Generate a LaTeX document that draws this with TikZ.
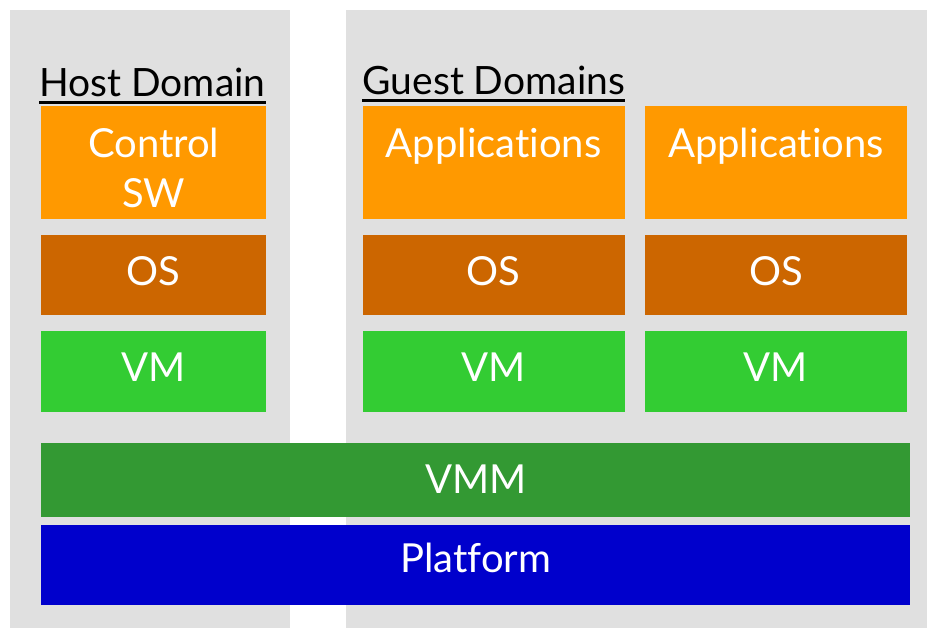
\documentclass[tikz,border=0pt]{standalone}
\usepackage{fontspec}
\setmainfont{Lato}[Ligatures=NoCommon]
\usetikzlibrary{positioning}

\definecolor{panelgray}{HTML}{E0E0E0}
\definecolor{appcol}{HTML}{FF9900}
\definecolor{oscol}{HTML}{CC6600}
\definecolor{vmcol}{HTML}{33CC33}
\definecolor{vmmcol}{HTML}{339933}
\definecolor{hwcol}{HTML}{0000CC}

\begin{document}
\begin{tikzpicture}[
    x=1pt, y=1pt,
    node distance=15pt and 20pt,
    tile/.style={rectangle, inner sep=0pt, text=white, align=center, text depth=8pt, font=\fontsize{40}{50}\selectfont},
    app/.style={tile, fill=appcol, minimum height=113pt, text height=89pt, text depth=0pt},
    os/.style={tile, fill=oscol, minimum height=80pt},
    vm/.style={tile, fill=vmcol, minimum height=81pt},
    vmmbar/.style={tile, fill=vmmcol, minimum width=869pt, minimum height=74pt, text depth=2pt},
    platbar/.style={tile, fill=hwcol, minimum width=869pt, minimum height=80pt, text depth=14pt},
    domtitle/.style={inner sep=0pt, font=\fontsize{39}{47}\selectfont},
    uline/.style={line width=3pt}
]
    % Fondos
    \fill[white] (0,0) rectangle (927,-628);
    \fill[panelgray] (10,-10) rectangle (290,-628);
    \fill[panelgray] (346,-10) rectangle (927,-628);
    \useasboundingbox (0,0) rectangle (927,-628);

    % Nodos
    \node[app, minimum width=225pt, anchor=north west] (ctrl) at (41,-106) {Control\\SW};
    \node[os, minimum width=225pt, below=of ctrl] (hostos) {OS};
    \node[vm, minimum width=225pt, below=16pt of hostos] (hostvm) {VM};

    \node[app, minimum width=262pt, right=96pt of ctrl] (app1) {Applications\\\mbox{}};
    \node[os, minimum width=262pt, below=of app1] (os1) {OS};
    \node[vm, minimum width=262pt, below=16pt of os1] (vm1) {VM};

    \node[app, minimum width=262pt, right=of app1] (app2) {Applications\\\mbox{}};
    \node[os, minimum width=262pt, below=of app2] (os2) {OS};
    \node[vm, minimum width=262pt, below=16pt of os2] (vm2) {VM};

    \node[vmmbar, below=31pt of hostvm.south west, anchor=north west] (vmm) {VMM};
    \node[platbar, below=7pt of vmm] (platform) {Platform};

    \node[domtitle, anchor=base west] (hosttitle) at ([xshift=-2pt, yshift=9.5pt]ctrl.north west) {Host Domain};
    \node[domtitle, anchor=base west] (guesttitle) at ([yshift=11pt]app1.north west) {Guest Domains};

    % Subrayados
    \draw[uline] ([yshift=-6pt]hosttitle.base west) -- ([yshift=-6pt]hosttitle.base east);
    \draw[uline] ([yshift=-6pt]guesttitle.base west) -- ([yshift=-6pt]guesttitle.base east);

\end{tikzpicture}
\end{document}
